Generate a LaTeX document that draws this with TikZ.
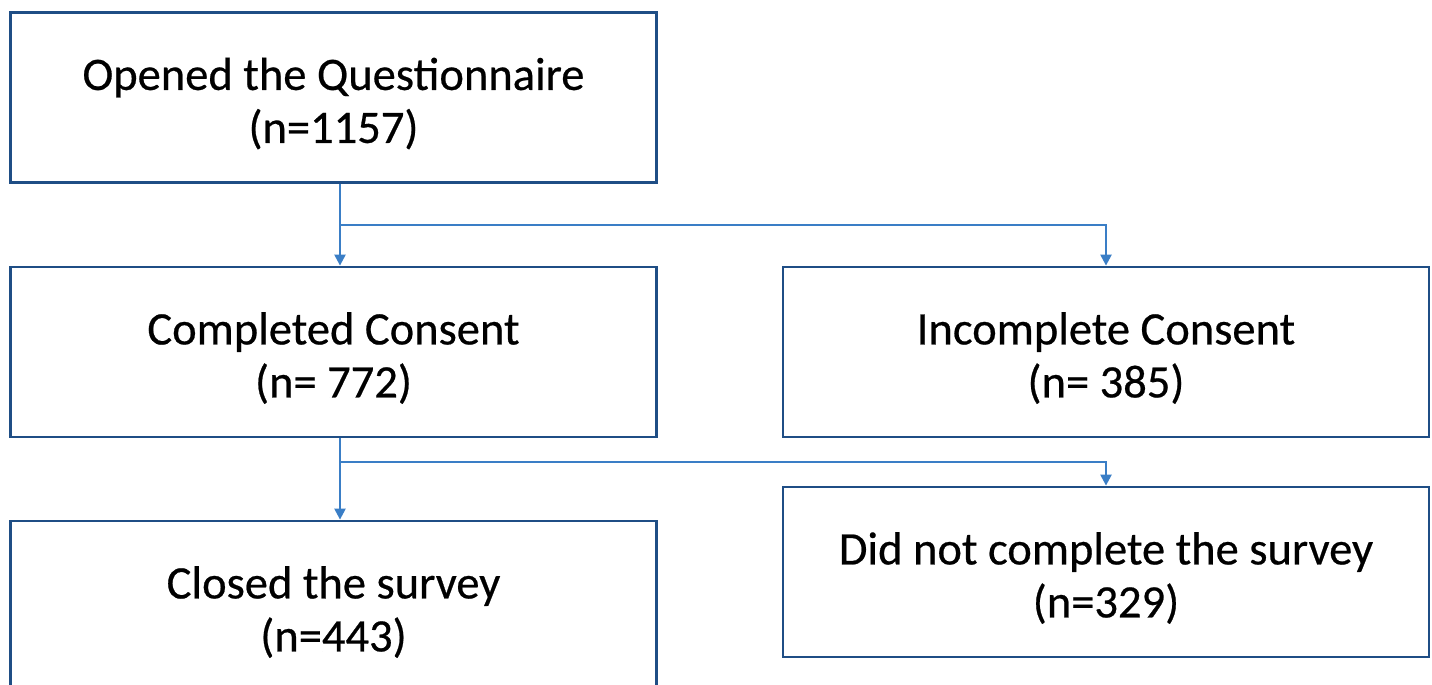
\documentclass[tikz,border=0pt]{standalone}
\usepackage{fontspec}
\setmainfont{Carlito}
\newfontfamily\boxfont{Carlito}[FakeBold=0.5]
\usetikzlibrary{arrows.meta}
\definecolor{boxblue}{HTML}{1F4E85}
\definecolor{linkblue}{HTML}{3A7EC6}
\tikzset{
  x=1pt, y=-1pt,
  flowbox/.style={draw=boxblue, line width=2.8pt, minimum width=646pt, minimum height=170pt, inner sep=0pt},
  boxtext/.style={align=center, inner sep=0pt, font=\boxfont\fontsize{46.5}{53}\selectfont, text=black, yshift=-6pt},
  conn/.style={draw=linkblue, line width=2.3pt, -{Triangle[length=11pt,width=11pt]}}
}
\begin{document}
\begin{tikzpicture}
\useasboundingbox (0,0) rectangle (1432,685);
\clip (0,0) rectangle (1432,685);
\fill[white] (0,0) rectangle (1432,685);
\node[flowbox, label={[boxtext]center:Opened the Questionnaire\\(n=1157)}] (b1) at (333.5,97.5) {};
\node[flowbox, label={[boxtext]center:Completed Consent\\(n= 772)}] (b2) at (333.5,352) {};
\node[flowbox, label={[boxtext]center:Incomplete Consent\\(n= 385)}] (b3) at (1106,352) {};
\node[flowbox, label={[boxtext]center:Closed the survey\\(n=443)}] (b4) at (333.5,606) {};
\node[flowbox, label={[boxtext]center:Did not complete the survey\\(n=329)}] (b5) at (1106,572) {};
\coordinate (j1) at (340,225);
\coordinate (j2) at (340,462);
\draw[conn] (b1.south -| j1) -- (b2.north -| j1);
\draw[conn] (j1) -| (b3.north);
\draw[conn] (b2.south -| j2) -- (b4.north -| j2);
\draw[conn] (j2) -| (b5.north);
\end{tikzpicture}
\end{document}
